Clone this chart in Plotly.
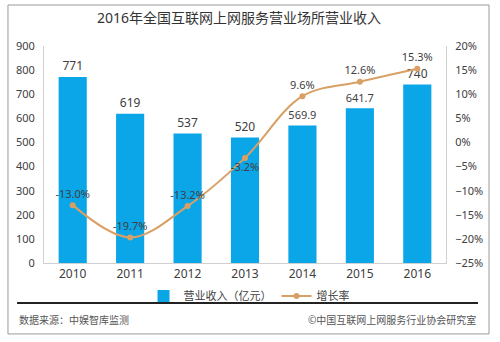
import plotly.graph_objects as go

years = ["2010", "2011", "2012", "2013", "2014", "2015", "2016"]
revenue = [771, 619, 537, 520, 569.9, 641.7, 740]
revenue_labels = ["771", "619", "537", "520", "569.9", "641.7", "740"]
growth = [-13.0, -19.7, -13.2, -3.2, 9.6, 12.6, 15.3]
growth_labels = ["-13.0%", "-19.7%", "-13.2%", "-3.2%", "9.6%", "12.6%", "15.3%"]
growth_pos = ["top center", "top center", "top center", "bottom center", "top center", "top center", "top center"]

FONT = "Noto Sans, Noto Sans CJK SC, sans-serif"
TXT = "#404040"

fig = go.Figure()
fig.add_trace(go.Bar(
    x=years, y=revenue, name="营业收入（亿元）",
    marker=dict(color="#0AA6E8", line=dict(width=0)),
    text=revenue_labels, textposition="outside", cliponaxis=False,
    textfont=dict(size=12, color=TXT, family=FONT),
))
fig.add_trace(go.Scatter(
    x=years, y=growth, name="增长率", yaxis="y2", mode="lines+markers+text",
    line=dict(color="#D9A066", width=2, shape="spline"),
    marker=dict(color="#D9A066", size=6),
    text=growth_labels, textposition=growth_pos, cliponaxis=False,
    textfont=dict(size=11, color=TXT, family=FONT),
))

fig.update_layout(
    width=500, height=342,
    margin=dict(l=44, r=54, t=46, b=79),
    paper_bgcolor="white", plot_bgcolor="white",
    font=dict(family=FONT, color=TXT, size=11),
    title=dict(text="2016年全国互联网上网服务营业场所营业收入", x=0.478, xanchor="center",
               y=0.947, yanchor="middle", font=dict(size=14, color="#333333", family=FONT)),
    bargap=0.51,
    showlegend=True,
    legend=dict(orientation="h", x=0.51, xanchor="center", y=-0.085, yanchor="top",
                font=dict(size=11, color=TXT), bgcolor="rgba(0,0,0,0)",
                itemwidth=30, tracegroupgap=0),
    xaxis=dict(showline=True, linecolor="#d0d0d0", linewidth=1, showgrid=False,
               ticks="", tickfont=dict(size=12, color=TXT)),
    yaxis=dict(range=[0, 900], dtick=100, showline=True, linecolor="#d0d0d0", linewidth=1,
               showgrid=False, zeroline=False, ticks="", tickfont=dict(size=11, color=TXT),
               ticklabelstandoff=6),
    yaxis2=dict(range=[-25, 20], dtick=5, overlaying="y", side="right", ticksuffix="%",
                showline=True, linecolor="#d0d0d0", linewidth=1, showgrid=False,
                zeroline=False, ticks="", tickfont=dict(size=11, color=TXT),
                ticklabelstandoff=6),
    shapes=[
        dict(type="rect", xref="paper", yref="paper", x0=-0.0896, x1=1.107, y0=-0.327, y1=1.189,
             line=dict(color="#9a9a9a", width=1), fillcolor="rgba(0,0,0,0)", layer="below"),
        dict(type="line", xref="paper", yref="paper", x0=-0.067, x1=1.0796, y0=-0.184, y1=-0.184,
             line=dict(color="#222222", width=2)),
    ],
    annotations=[
        dict(text="数据来源：中娱智库监测", xref="paper", yref="paper", x=-0.067, y=-0.263,
             xanchor="left", yanchor="middle", showarrow=False, font=dict(size=10, color="#555555")),
        dict(text="©中国互联网上网服务行业协会研究室", xref="paper", yref="paper", x=1.0796, y=-0.263,
             xanchor="right", yanchor="middle", showarrow=False, font=dict(size=10, color="#555555")),
    ],
)

fig.write_html("out.html")
